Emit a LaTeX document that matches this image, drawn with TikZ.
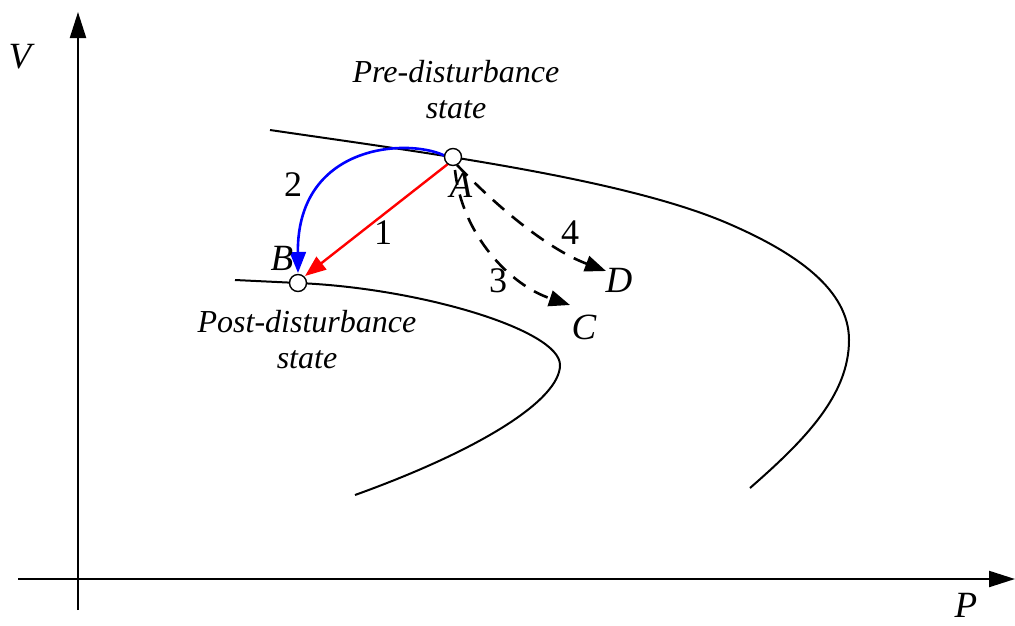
\documentclass[tikz,border=0pt]{standalone}
\usepackage{fontspec}
\setmainfont{Liberation Serif}
\usetikzlibrary{arrows.meta}
\begin{document}
\begin{tikzpicture}[x=1pt,y=-1pt,
  curve/.style={line width=2pt},
  axis/.style={line width=2.2pt,-{Triangle[length=26pt,width=16pt]}},
  tip/.style={-{Triangle[length=21pt,width=16pt]}},
  dashpath/.style={line width=2.6pt,dash pattern=on 15pt off 10pt,tip},
  state/.style={circle,draw,fill=white,line width=1.4pt,minimum size=17pt,inner sep=0pt},
  lbl/.style={font=\fontsize{37}{40}\selectfont\itshape,inner sep=0pt},
  num/.style={font=\fontsize{36}{40}\selectfont,inner sep=0pt},
  txt/.style={font=\fontsize{32}{36}\selectfont\itshape,align=center,inner sep=0pt}]
\useasboundingbox (0,0) rectangle (1015,625);
% axes
\coordinate (vorig) at (78,610);
\coordinate (vtip) at (78,12);
\coordinate (porig) at (18,579);
\coordinate (ptip) at (1015,579);
\draw[axis] (vorig) -- (vtip);
\draw[axis] (porig) -- (ptip);
\node[lbl] (V) at (20,57) {V};
\node[lbl] (P) at (966,605) {P};
% curves
\draw[curve] (270,130) .. controls (420,152) and (622,178) .. (727,223)
  .. controls (797,253) and (849,290) .. (849,340)
  .. controls (849,395) and (805,440) .. (750,488);
\draw[curve] (235,280) -- (298,283) .. controls (420,288) and (560,330) .. (560,365)
  .. controls (560,400) and (480,450) .. (355,495);
% arrows
\coordinate (a1) at (453,160);
\coordinate (b1) at (305,276);
\coordinate (a2) at (447,157);
\coordinate (b2) at (298,273);
\coordinate (a3) at (455,170);
\coordinate (c3) at (570,305);
\coordinate (a4) at (457,165);
\coordinate (d4) at (606,271);
\draw[red,line width=2.4pt,tip] (a1) -- (b1);
\draw[blue,line width=2.6pt,tip] (a2) .. controls (415,138) and (297,140) .. (b2);
\draw[dashpath] (a3) .. controls (462,235) and (510,285) .. (c3);
\draw[dashpath] (a4) .. controls (500,210) and (550,250) .. (d4);
% state points
\node[state] (A) at (453,157) {};
\node[state] (B) at (298,283) {};
% labels
\node[lbl] (Al) at (461,185) {A};
\node[lbl] (Bl) at (282,258) {B};
\node[lbl] (Cl) at (584,327) {C};
\node[lbl] (Dl) at (619,280) {D};
\node[num] (n1) at (383,233) {1};
\node[num] (n2) at (293,185) {2};
\node[num] (n3) at (498,281) {3};
\node[num] (n4) at (570,233) {4};
\node[txt] (pre) at (456,90) {Pre-disturbance\\state};
\node[txt] (post) at (307,340) {Post-disturbance\\state};
\end{tikzpicture}
\end{document}
